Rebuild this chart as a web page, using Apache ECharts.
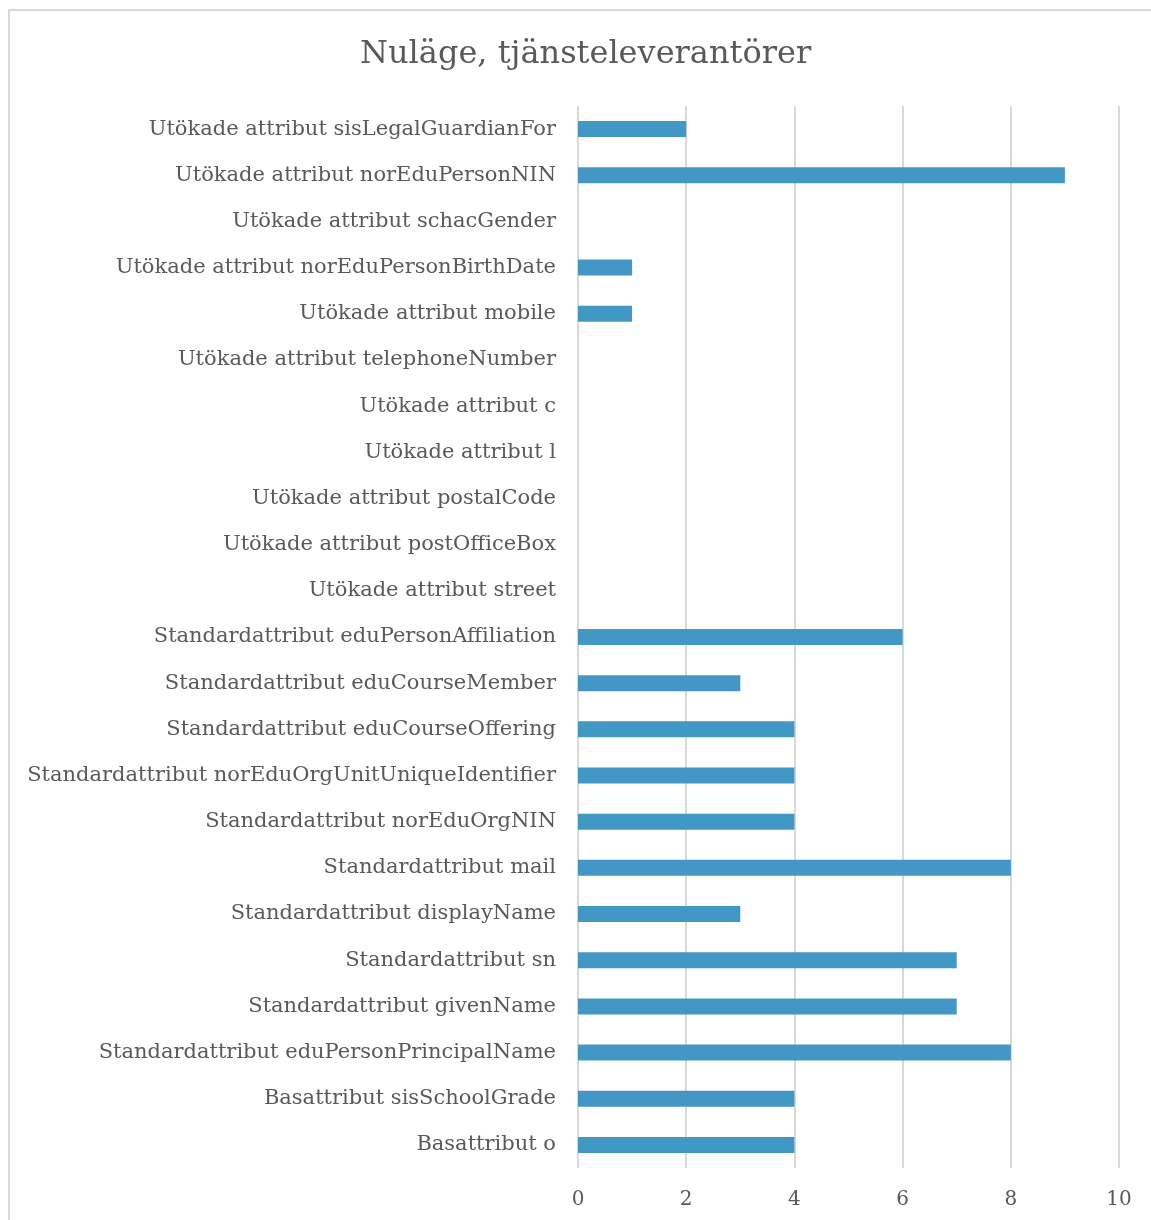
<!DOCTYPE html>
<html><head><meta charset="utf-8">
<script src="https://cdn.jsdelivr.net/npm/echarts@6/dist/echarts.min.js"></script>
<style>html,body{margin:0;padding:0;background:#fff;overflow:hidden}
#frame{position:absolute;left:8px;top:9px;width:1200px;height:1300px;border:2px solid #d9d9d9;box-sizing:border-box}
#c{position:absolute;left:0;top:0;width:1151px;height:1220px}</style>
</head><body><div id="frame"></div><div id="c"></div>
<script>
const categories = [
 "Utökade attribut sisLegalGuardianFor",
 "Utökade attribut norEduPersonNIN",
 "Utökade attribut schacGender",
 "Utökade attribut norEduPersonBirthDate",
 "Utökade attribut mobile",
 "Utökade attribut telephoneNumber",
 "Utökade attribut c",
 "Utökade attribut l",
 "Utökade attribut postalCode",
 "Utökade attribut postOfficeBox",
 "Utökade attribut street",
 "Standardattribut eduPersonAffiliation",
 "Standardattribut eduCourseMember",
 "Standardattribut eduCourseOffering",
 "Standardattribut norEduOrgUnitUniqueIdentifier",
 "Standardattribut norEduOrgNIN",
 "Standardattribut mail",
 "Standardattribut displayName",
 "Standardattribut sn",
 "Standardattribut givenName",
 "Standardattribut eduPersonPrincipalName",
 "Basattribut sisSchoolGrade",
 "Basattribut o"
];
const values = [2,9,0,1,1,0,0,0,0,0,0,6,3,4,4,4,8,3,7,7,8,4,4];
const xTicks = [0,2,4,6,8,10];
const titleText = "Nuläge, tjänsteleverantörer";

const font = "'DejaVu Serif', serif";
const chart = echarts.init(document.getElementById('c'));
chart.setOption({
  animation:false,
  title:{text:titleText,left:355,top:34,textStyle:{fontFamily:font,fontSize:32,fontWeight:'normal',color:'#595959'}},
  grid:{left:578,right:32,top:106,bottom:52,containLabel:false},
  xAxis:{type:'value',min:xTicks[0],max:xTicks[xTicks.length-1],interval:2,
    axisLine:{show:false},axisTick:{show:false},
    axisLabel:{fontFamily:font,fontSize:20,color:'#595959',margin:22},
    splitLine:{show:true,lineStyle:{color:'#d9d9d9',width:2}}},
  yAxis:{type:'category',data:categories,inverse:true,
    axisLine:{show:false},axisTick:{show:false},
    axisLabel:{fontFamily:font,fontSize:21,color:'#595959',margin:22}},
  series:[{type:'bar',data:values,barWidth:16,itemStyle:{color:'#4397C4'}}]
});
</script></body></html>
